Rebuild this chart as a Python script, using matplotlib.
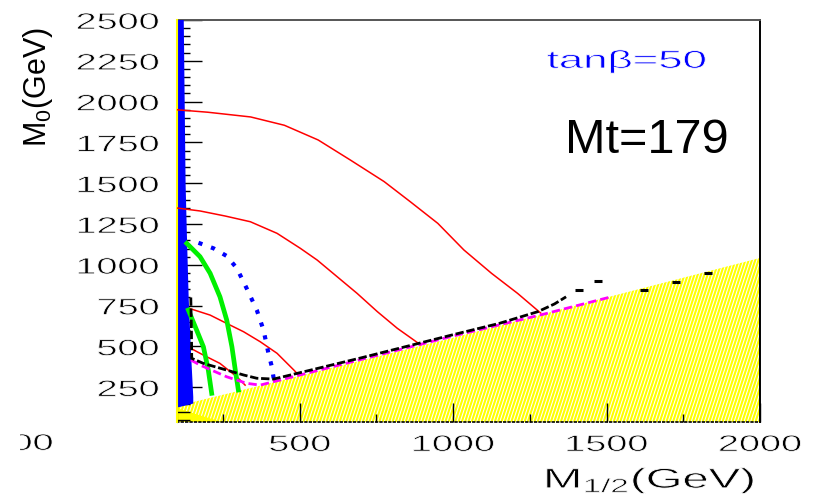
import numpy as np
import matplotlib
matplotlib.use("Agg")
import matplotlib.pyplot as plt
from matplotlib import patheffects
from matplotlib.collections import LineCollection
from matplotlib.patches import Polygon
from matplotlib.transforms import Affine2D, Bbox, TransformedBbox

plt.rcParams["font.family"] = ["Liberation Sans", "DejaVu Sans"]
plt.rcParams["mathtext.fontset"] = "custom"
plt.rcParams["mathtext.rm"] = "Liberation Sans"
plt.rcParams["mathtext.it"] = "Liberation Sans:italic"

# curves in the (M1/2, M0) plane, GeV
red1_m12 = [100, 200, 340, 450, 560, 665, 775, 860, 950, 1035, 1125, 1210, 1285]
red1_m0 = [1950, 1935, 1906, 1855, 1765, 1642, 1510, 1387, 1254, 1091, 948, 825, 705]
red2_m12 = [100, 175, 257, 339, 426, 502, 557, 622, 687, 753, 818, 872, 894]
red2_m0 = [1348, 1330, 1299, 1264, 1193, 1101, 1029, 927, 825, 713, 611, 539, 509]
red3_m12 = [140, 208, 262, 317, 371, 426, 481, 496]
red3_m0 = [733, 692, 641, 590, 529, 458, 355, 325]
red4_m12 = [145, 186, 240, 295, 322]
red4_m0 = [488, 447, 396, 314, 263]
green1_m12 = [132, 175, 208, 240, 262, 279, 290, 300]
green1_m0 = [1131, 1050, 948, 804, 662, 498, 355, 233]
green2_m12 = [137, 164, 186, 202, 213]
green2_m0 = [723, 600, 498, 355, 213]
blue_m12 = [170, 219, 262, 295, 327, 360, 382, 398, 409, 415]
blue_m0 = [1135, 1101, 1054, 979, 856, 723, 600, 458, 376, 305]
black_m12 = [145, 147, 148, 186, 262, 317, 360, 415, 700, 1000, 1150, 1276, 1330, 1368]
black_m0 = [800, 600, 427, 396, 355, 325, 305, 300, 430, 572, 641, 713, 760, 804]
black_pts_m12 = [1411, 1471, 1623, 1727, 1831]
black_pts_m0 = [845, 901, 845, 892, 951]
mag_m12 = [145, 175, 262, 327, 371, 415, 700, 992, 1300, 1515]
mag_m0 = [417, 386, 314, 274, 263, 284, 420, 560, 700, 804]

# charged LSP region boundary
lsp_m12 = [100, 415, 1000, 1500, 2000]
lsp_m0 = [135, 280, 553, 800, 1042]
# right edge of the blue band at small M1/2
band_m12 = [122, 125, 128, 132, 138, 146, 153, 153]
band_m0 = [2500, 2000, 1500, 1200, 800, 450, 190, 150]
# solid yellow corner
corner_m12 = [100, 100, 246]
corner_m0 = [37, 122, 37]

x_ticks = [500, 1000, 1500, 2000]
x_minor = [250, 750, 1250, 1750]
y_ticks = list(range(250, 2501, 250))
y_minor = [v for v in range(50, 2500, 50) if v % 250]

W, H = 814, 500


class Stretch(patheffects.AbstractPathEffect):
    """Draw text widened horizontally about one edge of its outline,
    then trim the strokes a little with a white outline."""

    def __init__(self, sx, anchor="center", trim=0.6):
        super().__init__()
        self.sx = sx
        self.anchor = anchor
        self.trim = trim

    def draw_path(self, renderer, gc, tpath, affine, rgbFace=None):
        box = tpath.get_extents(affine)
        x0 = {"left": box.x0, "right": box.x1,
              "center": 0.5 * (box.x0 + box.x1)}[self.anchor]
        widen = Affine2D().translate(-x0, 0).scale(self.sx, 1).translate(x0, 0)
        renderer.draw_path(gc, tpath, affine + widen, rgbFace)
        if self.trim:
            gc0 = renderer.new_gc()
            gc0.copy_properties(gc)
            gc0.set_foreground("white")
            gc0.set_linewidth(self.trim)
            renderer.draw_path(gc0, tpath, affine + widen, None)
            gc0.restore()


fig = plt.figure(figsize=(W / 100, H / 100), dpi=100)
ax = fig.add_axes([177 / W, 78 / H, 583 / W, 402 / H])
ax.set_xlim(100, 2000)
ax.set_ylim(37, 2500)

# hatched yellow region
region = Polygon(np.column_stack([lsp_m12 + [2000, 100], lsp_m0 + [37, 37]]),
                 closed=True, facecolor="white", edgecolor="none",
                 transform=ax.transData, zorder=1)
ax.add_patch(region)
tilt = 1 / np.tan(np.radians(72))
segs = [[(c / W, 0), ((c + H * tilt) / W, 1)] for c in np.arange(-250, 900, 3.3)]
hatch = LineCollection(segs, colors="#ffff00", linewidths=1.5,
                       transform=fig.transFigure, zorder=1.2)
hatch.set_clip_path(region)
ax.add_collection(hatch, autolim=False)
ax.add_patch(Polygon(np.column_stack([corner_m12, corner_m0]), closed=True,
                     facecolor="#ffff00", edgecolor="none", zorder=1.5))

# blue band along the left edge
band = np.column_stack([[100] + band_m12 + [100], [2500] + band_m0 + [125]])
ax.add_patch(Polygon(band, closed=True, facecolor="#0000ff", edgecolor="none", zorder=3))
ax.plot([100, 100], [37, 2500], color="#ffff00", lw=1.5, clip_on=False, zorder=3.1)

for xs, ys in [(red1_m12, red1_m0), (red2_m12, red2_m0),
               (red3_m12, red3_m0), (red4_m12, red4_m0)]:
    ax.plot(xs, ys, color="#ff0000", lw=1.1, zorder=4)
for xs, ys in [(green1_m12, green1_m0), (green2_m12, green2_m0)]:
    ax.plot(xs, ys, color="#00f000", lw=3.4, zorder=4)
ax.plot(blue_m12, blue_m0, color="#0000ff", lw=3, ls=(0, (1, 2.2)), zorder=4)
ax.plot(mag_m12, mag_m0, color="#ff00ff", lw=2, ls=(0, (3, 1.5)), zorder=4.1)
ax.plot(black_m12, black_m0, color="black", lw=2, ls=(0, (3, 1)), zorder=4.2)
ax.plot(black_pts_m12, black_pts_m0, ls="none", marker="_", ms=6, mew=2.2,
        color="black", zorder=4.2)

# frame and ticks
ax.spines["top"].set_color("#555555")
ax.spines["top"].set_linewidth(1.4)
ax.spines["right"].set_color("black")
ax.spines["right"].set_linewidth(1.4)
ax.spines["bottom"].set_linestyle(":")
ax.spines["bottom"].set_linewidth(1.2)

ax.set_xticks(x_ticks, labels=[str(v) for v in x_ticks])
ax.set_xticks(x_minor, minor=True)
ax.set_yticks(y_ticks, labels=[str(v) for v in y_ticks])
ax.set_yticks(y_minor, minor=True)
ax.tick_params(axis="y", which="major", direction="in", length=18, width=1,
               pad=13, labelsize=16.5, colors="black")
ax.tick_params(axis="y", which="minor", direction="in", length=9.5, width=1)
ax.tick_params(axis="x", which="major", direction="in", length=14, width=1,
               pad=8, labelsize=16.5)
ax.tick_params(axis="x", which="minor", direction="in", length=6, width=1)
for lab in ax.get_xticklabels():
    lab.set_path_effects([Stretch(1.65, "center")])
for lab in ax.get_yticklabels():
    lab.set_path_effects([Stretch(1.65, "right")])

# axis titles
fig.text(755 / W, 1 - 488 / H, r"M$_{\mathrm{1/2}}$(GeV)", fontsize=20,
         ha="right", va="baseline", path_effects=[Stretch(1.7, "right")])
fig.text(46 / W, 1 - 87 / H, r"M$_{\mathrm{0}}$(GeV)", fontsize=22,
         rotation=90, rotation_mode="anchor", ha="center", va="baseline")
edge = fig.text(53 / W, 1 - 450 / H, "100", fontsize=16.5, ha="right",
                va="baseline", path_effects=[Stretch(1.65, "right")])
edge.set_clip_box(TransformedBbox(Bbox([[20 / W, 0], [1, 1]]), fig.transFigure))
edge.set_clip_on(True)

fig.text(547 / W, 1 - 68 / H, "tanβ=50", fontsize=18, color="#0000ff",
         ha="left", va="baseline", path_effects=[Stretch(1.75, "left")])
fig.text(565 / W, 1 - 153 / H, "Mt=179", fontsize=35, ha="left", va="baseline")

fig.savefig("out.png", dpi=100)
